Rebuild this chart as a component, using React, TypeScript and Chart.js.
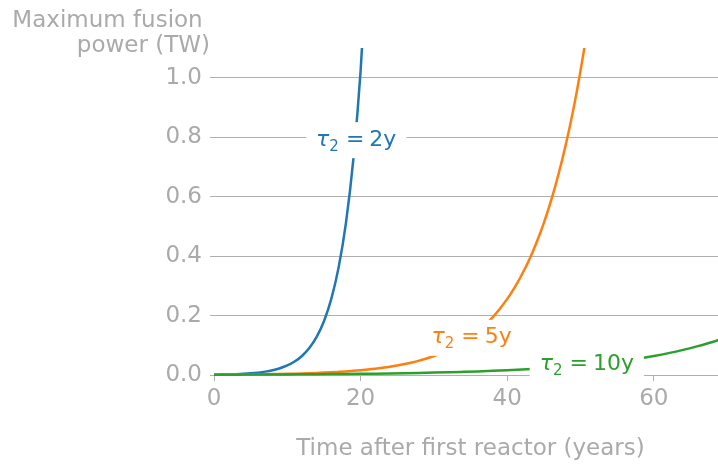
import React, { useEffect, useRef } from 'react';
import { Chart, registerables } from 'chart.js';

Chart.register(...registerables);

// Doubling time 2 years (years, TW)
const years2 = [0, 1, 2, 3, 4, 5, 6, 7, 8, 9, 10, 11, 12, 13, 14, 15, 16, 17, 18, 19, 20, 21];
const power2 = [0.001, 0.00141, 0.002, 0.00283, 0.004, 0.00566, 0.008, 0.0113, 0.016, 0.0226, 0.032, 0.0453, 0.064, 0.0905, 0.128, 0.181, 0.256, 0.362, 0.512, 0.724, 1.024, 1.448];

// Doubling time 5 years
const years5 = [0, 1, 2, 3, 4, 5, 6, 7, 8, 9, 10, 11, 12, 13, 14, 15, 16, 17, 18, 19, 20, 21, 22, 23, 24, 25, 26, 27, 28, 29, 30, 31, 32, 33, 34, 35, 36, 37, 38, 39, 40, 41, 42, 43, 44, 45, 46, 47, 48, 49, 50, 51, 52];
const power5 = [0.001, 0.00115, 0.00132, 0.00152, 0.00174, 0.002, 0.0023, 0.00264, 0.00303, 0.00348, 0.004, 0.0046, 0.00528, 0.00606, 0.00696, 0.008, 0.00919, 0.0106, 0.0121, 0.0139, 0.016, 0.0184, 0.0211, 0.0243, 0.0279, 0.032, 0.0368, 0.0422, 0.0485, 0.0557, 0.064, 0.0735, 0.0845, 0.097, 0.111, 0.128, 0.147, 0.169, 0.194, 0.223, 0.256, 0.294, 0.338, 0.388, 0.446, 0.512, 0.588, 0.676, 0.776, 0.891, 1.024, 1.176, 1.351];

// Doubling time 10 years
const years10 = [0, 2, 4, 6, 8, 10, 12, 14, 16, 18, 20, 22, 24, 26, 28, 30, 32, 34, 36, 38, 40, 42, 44, 46, 48, 50, 52, 54, 56, 58, 60, 62, 64, 66, 68, 70];
const power10 = [0.001, 0.00115, 0.00132, 0.00152, 0.00174, 0.002, 0.0023, 0.00264, 0.00303, 0.00348, 0.004, 0.0046, 0.00528, 0.00606, 0.00696, 0.008, 0.00919, 0.0106, 0.0121, 0.0139, 0.016, 0.0184, 0.0211, 0.0243, 0.0279, 0.032, 0.0368, 0.0422, 0.0485, 0.0557, 0.064, 0.0735, 0.0845, 0.097, 0.111, 0.128];

const xTicks = [0, 20, 40, 60];
const yTicks = [0, 0.2, 0.4, 0.6, 0.8, 1.0];

const seriesNames = ['2y', '5y', '10y'];
const labelX = [19.4, 35.15, 50.85];
const labelY = [0.79, 0.125, 0.035];

const yTitleLines = ['Maximum fusion ', 'power (TW)'];
const xTitle = 'Time after first reactor (years)';

const COLORS = ['#1f77b4', '#ff7f0e', '#2ca02c'];
const GRAY_TEXT = '#aaaaaa';
const GRAY_LINE = '#b0b0b0';
const FAMILY = '"DejaVu Sans", sans-serif';
const AXIS_SIZE = 23;
const LABEL_SIZE = 22;

const overlayPlugin = {
  id: 'overlay',
  afterDatasetsDraw(chart: any) {
    const { ctx, scales } = chart;
    const xs = scales.x;
    const ys = scales.y;
    ctx.save();
    seriesNames.forEach((name, i) => {
      const cx = xs.getPixelForValue(labelX[i]);
      const cy = ys.getPixelForValue(labelY[i]);
      const fIt = `italic ${LABEL_SIZE}px ${FAMILY}`;
      const fMain = `${LABEL_SIZE}px ${FAMILY}`;
      const fSub = `${Math.round(LABEL_SIZE * 0.7)}px ${FAMILY}`;
      ctx.font = fIt;
      const wTau = ctx.measureText('τ').width;
      ctx.font = fSub;
      const wSub = ctx.measureText('2').width;
      ctx.font = fMain;
      const wEq = ctx.measureText('=').width;
      const wVal = ctx.measureText(name).width;
      const g1 = 7;
      const g2 = 5;
      const total = wTau + wSub + g1 + wEq + g2 + wVal;
      const padX = 10;
      const halfH = 18;
      ctx.fillStyle = '#ffffff';
      ctx.fillRect(cx - total / 2 - padX, cy - halfH, total + 2 * padX, halfH * 2);
      const base = cy + 5.5;
      let x = cx - total / 2;
      ctx.fillStyle = COLORS[i];
      ctx.textBaseline = 'alphabetic';
      ctx.textAlign = 'left';
      ctx.font = fIt;
      ctx.fillText('τ', x, base);
      x += wTau;
      ctx.font = fSub;
      ctx.fillText('2', x, base + 5);
      x += wSub + g1;
      ctx.font = fMain;
      ctx.fillText('=', x, base);
      x += wEq + g2;
      ctx.fillText(name, x, base);
    });
    ctx.restore();
  },
  afterDraw(chart: any) {
    const { ctx } = chart;
    ctx.save();
    ctx.fillStyle = GRAY_TEXT;
    ctx.font = `${AXIS_SIZE}px ${FAMILY}`;
    ctx.textBaseline = 'alphabetic';
    ctx.textAlign = 'right';
    ctx.fillText(yTitleLines[0], 210, 27);
    ctx.fillText(yTitleLines[1], 210, 52);
    ctx.textAlign = 'center';
    ctx.fillText(xTitle, 470.5, 455);
    ctx.restore();
  },
};

export default function App() {
  const ref = useRef<HTMLCanvasElement | null>(null);
  useEffect(() => {
    document.body.style.margin = '0';
    const canvas = ref.current!;
    const mk = (xsArr: number[], ysArr: number[]) => xsArr.map((x, i) => ({ x, y: ysArr[i] }));
    const common = {
      borderWidth: 2.5,
      pointRadius: 0,
      fill: false,
      cubicInterpolationMode: 'monotone' as const,
      clip: { left: 0, top: 0, right: 0, bottom: 5 },
    };
    const chart = new Chart(canvas, {
      type: 'line',
      data: {
        datasets: [
          { ...common, label: seriesNames[0], data: mk(years2, power2), borderColor: COLORS[0], order: 2 },
          { ...common, label: seriesNames[1], data: mk(years5, power5), borderColor: COLORS[1], order: 1 },
          { ...common, label: seriesNames[2], data: mk(years10, power10), borderColor: COLORS[2], order: 0 },
        ],
      },
      options: {
        responsive: false,
        animation: false,
        devicePixelRatio: 1,
        layout: { padding: { top: 48, left: 0, right: 0, bottom: 0 } },
        plugins: { legend: { display: false }, tooltip: { enabled: false } },
        scales: {
          x: {
            type: 'linear',
            min: 0,
            max: 68.75,
            afterBuildTicks: (s: any) => {
              s.ticks = xTicks.map((v) => ({ value: v }));
            },
            afterFit: (s: any) => {
              s.height = 91;
            },
            grid: { drawOnChartArea: false, drawTicks: true, tickLength: 6, color: GRAY_LINE, lineWidth: 1 },
            border: { display: false },
            ticks: {
              color: GRAY_TEXT,
              font: { family: FAMILY, size: AXIS_SIZE },
              padding: 4,
              maxRotation: 0,
              autoSkip: false,
              callback: (v: any) => String(v),
            },
          },
          y: {
            type: 'linear',
            min: 0,
            max: 1.1,
            afterBuildTicks: (s: any) => {
              s.ticks = yTicks.map((v) => ({ value: v }));
            },
            afterFit: (s: any) => {
              s.width = 214;
            },
            grid: { drawOnChartArea: true, drawTicks: true, tickLength: 4, color: GRAY_LINE, lineWidth: 1 },
            border: { display: false },
            ticks: {
              color: GRAY_TEXT,
              font: { family: FAMILY, size: AXIS_SIZE },
              padding: 8,
              autoSkip: false,
              callback: (v: any) => Number(v).toFixed(1),
            },
          },
        },
      },
      plugins: [overlayPlugin],
    });
    return () => chart.destroy();
  }, []);
  return (
    <div style={{ position: 'absolute', left: 0, top: 0, width: 718, height: 466 }}>
      <canvas ref={ref} width={718} height={466} style={{ width: 718, height: 466, display: 'block' }} />
    </div>
  );
}
